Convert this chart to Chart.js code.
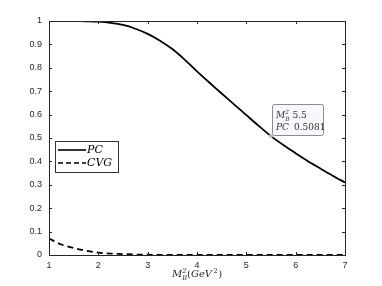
<!DOCTYPE html>
<html>
<head>
<meta charset="utf-8">
<script src="https://cdn.jsdelivr.net/npm/chart.js@4/dist/chart.umd.min.js"></script>
<style>
  html, body { margin: 0; padding: 0; background: #fff; }
  #wrap { width: 382px; height: 286px; position: relative; }
</style>
</head>
<body>
<div id="wrap"><canvas id="c"></canvas></div>
<script>
// values
const massSq = [1, 1.25, 1.5, 1.75, 2, 2.25, 2.5, 2.75, 3, 3.25, 3.5, 3.75, 4, 4.25, 4.5, 4.75, 5, 5.25, 5.5, 5.75, 6, 6.25, 6.5, 6.75, 7];
const pcValues = [1, 1, 1, 0.999, 0.997, 0.992, 0.983, 0.967, 0.945, 0.916, 0.88, 0.835, 0.785, 0.737, 0.69, 0.644, 0.598, 0.552, 0.508, 0.47, 0.435, 0.401, 0.37, 0.339, 0.31];
const cvgValues = [0.07, 0.045, 0.03, 0.018, 0.01, 0.006, 0.004, 0.002, 0.001, 0.0005, 0, 0, 0, 0, 0, 0, 0, 0, 0, 0, 0, 0, 0, 0, 0];
const xTicks = [1, 2, 3, 4, 5, 6, 7];
const yTicks = [0, 0.1, 0.2, 0.3, 0.4, 0.5, 0.6, 0.7, 0.8, 0.9, 1];
const tipPoint = { x: 5.5, y: 0.5081 };

const axisColor = '#262626';
const mathFont = 'italic 11px "DejaVu Serif", "Liberation Serif", serif';

// draws M_B^2 style text, returns width
function drawMath(ctx, parts, x, y, size) {
  let cx = x;
  parts.forEach(p => {
    const s = p.sub || p.sup ? size * 0.65 : size;
    const dy = p.sub ? size * 0.3 : p.sup ? -size * 0.45 : 0;
    ctx.font = (p.upright ? '' : 'italic ') + s + 'px "DejaVu Serif", "Liberation Serif", serif';
    cx += p.gap || 0;
    if (p.sub && p.stack) {
      ctx.fillText(p.t, cx, y + dy);
      ctx.fillText(p.stack, cx, y - size * 0.45);
      cx += Math.max(ctx.measureText(p.t).width, ctx.measureText(p.stack).width);
      return;
    }
    ctx.fillText(p.t, cx, y + dy);
    cx += ctx.measureText(p.t).width;
  });
  return cx - x;
}

const framePlugin = {
  id: 'frame',
  afterDraw(chart) {
    const { ctx, chartArea: a, scales: { x, y } } = chart;
    ctx.save();
    ctx.strokeStyle = axisColor;
    ctx.lineWidth = 1;
    ctx.strokeRect(a.left + 0.5, a.top + 0.5, a.right - a.left, a.bottom - a.top);
    ctx.beginPath();
    xTicks.forEach(v => {
      const px = Math.round(x.getPixelForValue(v)) + 0.5;
      ctx.moveTo(px, a.bottom); ctx.lineTo(px, a.bottom - 3);
      ctx.moveTo(px, a.top); ctx.lineTo(px, a.top + 3);
    });
    yTicks.forEach(v => {
      const py = Math.round(y.getPixelForValue(v)) + 0.5;
      ctx.moveTo(a.left, py); ctx.lineTo(a.left + 3, py);
      ctx.moveTo(a.right, py); ctx.lineTo(a.right - 3, py);
    });
    ctx.stroke();

    // legend box
    ctx.fillStyle = '#fff';
    ctx.fillRect(55.5, 141.5, 63, 31);
    ctx.strokeStyle = '#333';
    ctx.strokeRect(55.5, 141.5, 63, 31);
    ctx.strokeStyle = '#000';
    ctx.lineWidth = 1.6;
    ctx.beginPath(); ctx.moveTo(58, 150); ctx.lineTo(86, 150); ctx.stroke();
    ctx.setLineDash([5, 3]);
    ctx.beginPath(); ctx.moveTo(58, 163); ctx.lineTo(86, 163); ctx.stroke();
    ctx.setLineDash([]);
    ctx.fillStyle = '#000';
    ctx.font = mathFont;
    ctx.textBaseline = 'middle';
    ctx.fillText('PC', 87, 150);
    ctx.fillText('CVG', 87, 163);

    // data tip
    const tx = x.getPixelForValue(tipPoint.x), ty = y.getPixelForValue(tipPoint.y);
    ctx.fillStyle = '#f8f8fc';
    ctx.strokeStyle = '#8a8a9a';
    ctx.lineWidth = 1;
    ctx.beginPath();
    ctx.roundRect(272.5, 104.5, 51, 31, 2);
    ctx.fill(); ctx.stroke();
    ctx.fillStyle = '#333';
    ctx.textBaseline = 'alphabetic';
    const w = drawMath(ctx, [{ t: 'M' }, { t: 'B', sub: true, stack: '2' }], 276, 118, 9);
    ctx.font = '9px "DejaVu Serif", "Liberation Serif", serif';
    ctx.fillText('5.5', 276 + w + 3, 118);
    ctx.font = 'italic 9px "DejaVu Serif", "Liberation Serif", serif';
    ctx.fillText('PC', 276, 130);
    ctx.font = '9px "DejaVu Serif", "Liberation Serif", serif';
    ctx.fillText('0.5081', 294, 130);
    ctx.fillStyle = '#b8b8b8';
    ctx.beginPath(); ctx.arc(tx, ty, 2, 0, Math.PI * 2); ctx.fill();

    // x axis title
    ctx.fillStyle = '#262626';
    drawMath(ctx, [{ t: 'M' }, { t: 'B', sub: true, stack: '2' }, { t: '(', upright: true }, { t: 'GeV' }, { t: '2', sup: true, upright: true, gap: 1.5 }, { t: ')', upright: true, gap: 0.5 }], 172, 277, 10);
    ctx.restore();
  }
};

new Chart(document.getElementById('c'), {
  type: 'line',
  data: {
    datasets: [
      {
        label: 'PC',
        data: massSq.map((m, i) => ({ x: m, y: pcValues[i] })),
        borderColor: '#000',
        borderWidth: 1.8,
        pointRadius: 0,
        tension: 0.3
      },
      {
        label: 'CVG',
        data: massSq.map((m, i) => ({ x: m, y: cvgValues[i] })),
        borderColor: '#000',
        borderWidth: 1.8,
        borderDash: [6, 4],
        pointRadius: 0,
        cubicInterpolationMode: 'monotone'
      }
    ]
  },
  options: {
    responsive: true,
    maintainAspectRatio: false,
    animation: false,
    layout: { padding: { left: 0, right: 37, top: 21, bottom: 0 } },
    plugins: { legend: { display: false }, tooltip: { enabled: false } },
    scales: {
      x: {
        type: 'linear',
        min: 1, max: 7,
        afterBuildTicks: s => { s.ticks = xTicks.map(v => ({ value: v })); },
        afterFit: s => { s.height = 31; },
        grid: { display: false, drawTicks: false },
        border: { display: false },
        ticks: { color: axisColor, padding: 5, font: { size: 9, family: 'Liberation Sans' }, maxRotation: 0 }
      },
      y: {
        min: 0, max: 1,
        afterBuildTicks: s => { s.ticks = yTicks.map(v => ({ value: v })); },
        afterFit: s => { s.width = 49; },
        grid: { display: false, drawTicks: false },
        border: { display: false },
        ticks: { color: axisColor, padding: 7, font: { size: 9, family: 'Liberation Sans' }, callback: v => String(v) }
      }
    }
  },
  plugins: [framePlugin]
});
</script>
</body>
</html>
